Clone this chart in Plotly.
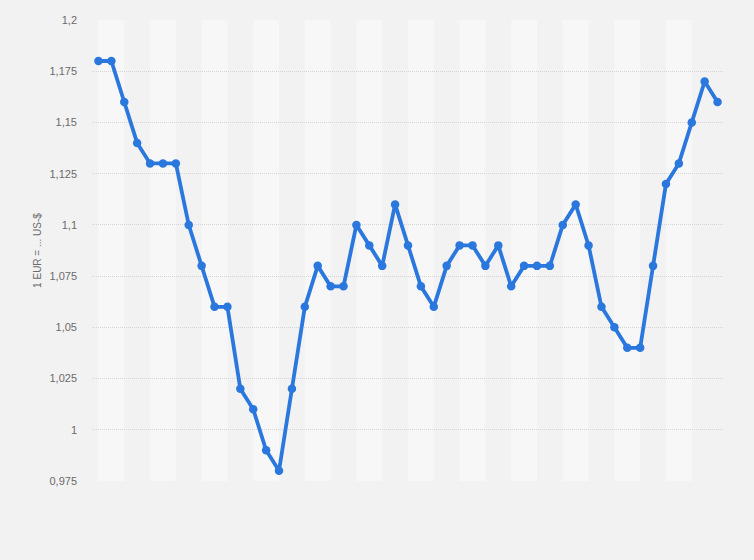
import plotly.graph_objects as go

# Data (EUR -> USD exchange rate, 49 periods)
periods = list(range(1, 50))
rates = [1.18, 1.18, 1.16, 1.14, 1.13, 1.13, 1.13, 1.10, 1.08, 1.06,
         1.06, 1.02, 1.01, 0.99, 0.98, 1.02, 1.06, 1.08, 1.07, 1.07,
         1.10, 1.09, 1.08, 1.11, 1.09, 1.07, 1.06, 1.08, 1.09, 1.09,
         1.08, 1.09, 1.07, 1.08, 1.08, 1.08, 1.10, 1.11, 1.09, 1.06,
         1.05, 1.04, 1.04, 1.08, 1.12, 1.13, 1.15, 1.17, 1.16]
y_ticks = [0.975, 1.0, 1.025, 1.05, 1.075, 1.1, 1.125, 1.15, 1.175, 1.2]
y_tick_labels = ["0,975", "1", "1,025", "1,05", "1,075", "1,1", "1,125", "1,15", "1,175", "1,2"]
y_title = "1 EUR = ... US-$"

BG = "#f2f2f2"
BAND = "#f7f7f7"
BLUE = "#2a77dd"

fig = go.Figure()
fig.add_trace(go.Scatter(
    x=periods, y=rates, mode="lines+markers",
    line=dict(color=BLUE, width=3.8),
    marker=dict(color=BLUE, size=8.5),
    hoverinfo="y", showlegend=False,
))

shapes = []
for i in range(0, len(periods) - 4, 4):
    shapes.append(dict(type="rect", xref="x", yref="paper",
                       x0=periods[i], x1=periods[i + 2], y0=0, y1=1,
                       fillcolor=BAND, line=dict(width=0), layer="below"))

fig.update_layout(
    width=754, height=560,
    margin=dict(l=92, r=30, t=20, b=79),
    paper_bgcolor=BG, plot_bgcolor=BG,
    shapes=shapes,
    font=dict(family="Liberation Sans, Arial, sans-serif", color="#6b6b6b", size=11),
    xaxis=dict(range=[periods[0] - 0.5, periods[-1] + 0.5], showticklabels=False,
               showgrid=False, zeroline=False, showline=False, ticks=""),
    yaxis=dict(range=[0.975, 1.2], tickvals=y_ticks, ticktext=y_tick_labels,
               showgrid=True, gridcolor="#d5d5d5", gridwidth=1, griddash="1px,1px",
               zeroline=False, showline=False, ticks="",
               ticklabelstandoff=14,
               title=dict(text=y_title, font=dict(size=10, color="#6b6b6b"), standoff=5)),
)

fig.write_html("out.html", config={"displayModeBar": False},
               post_script="document.body.style.margin='0';document.body.style.background='#f2f2f2';")
